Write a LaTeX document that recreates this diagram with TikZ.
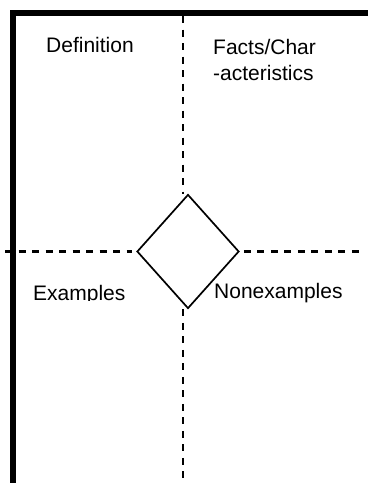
\documentclass[tikz,border=0pt]{standalone}
\usepackage{fontspec}
\setmainfont{Liberation Sans}
\usetikzlibrary{shapes.geometric}
\begin{document}
\begin{tikzpicture}[x=1pt,y=-1pt,
  frame/.style={line width=6pt,line join=miter},
  guide/.style={line width=2.6pt,dash pattern=on 7pt off 6.5pt},
  label/.style={inner sep=0pt,anchor=base west,font=\fontsize{21}{26}\selectfont},
  kite/.style={draw,line width=1.7pt,shape=diamond,fill=white,inner sep=0pt,minimum width=102pt,minimum height=114pt}]
\useasboundingbox[fill=white] (0,0) rectangle (368,483);
% guide end points
\coordinate (vt) at (183,16);
\coordinate (vb) at (183,483);
\coordinate (hl) at (5,251.5);
\coordinate (hr) at (363,251.5);
% diamond
\node[kite] (d) at (188,251.5) {};
% dashed guides
\draw[guide] (vt) -- (vt |- d.north);
\draw[guide] (vt |- d.south) -- (vb);
\draw[guide] (hl) -- ([xshift=-4pt]d.west);
\draw[guide] ([xshift=4pt]d.east) -- (hr);
% frame
\draw[frame] (368,13) -- (13,13) -- (13,483);
% texts
\node[label] (def) at (46,52) {Definition};
\node[label] (fc1) at (213,54) {Facts/Char};
\node[label] (fc2) at (213,80) {-acteristics};
\begin{scope}
\clip (0,0) rectangle (368,300);
\node[label] (ex) at (33,300.5) {Examples};
\end{scope}
\node[label] (nex) at (214,298) {Nonexamples};
\end{tikzpicture}
\end{document}
